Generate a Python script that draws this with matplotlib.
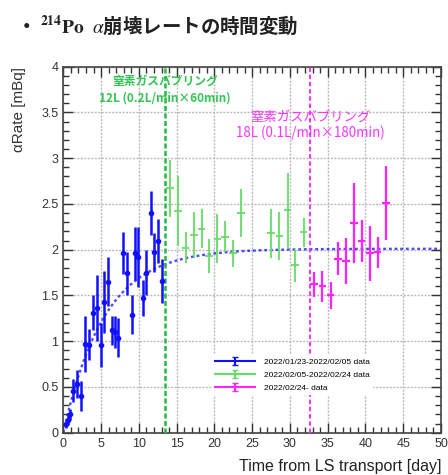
import numpy as np
import matplotlib
matplotlib.use("Agg")
import matplotlib.pyplot as plt
from matplotlib.ticker import MultipleLocator

plt.rcParams["font.family"] = ["Liberation Sans", "DejaVu Sans"]
plt.rcParams["mathtext.fontset"] = "stix"

# 2022/01/23 - 2022/02/05
t1 = [0.32, 0.58, 0.89, 1.33, 1.8, 2.35, 2.87, 3.4, 3.9, 4.4, 4.95, 5.43, 5.96,
      6.4, 6.85, 7.3, 7.95, 8.4, 9.05, 9.55, 9.95, 10.5, 11.0, 11.55, 12.0,
      12.55, 13.05]
r1 = [0.09, 0.14, 0.20, 0.46, 0.53, 0.40, 0.97, 0.96, 1.31, 1.36, 0.96, 1.43, 1.65,
      1.12, 1.10, 1.04, 1.96, 1.74, 1.29, 1.96, 1.92, 1.47, 1.75, 2.40, 1.97,
      2.09, 1.66]
e1 = [0.04, 0.05, 0.06, 0.13, 0.15, 0.16, 0.31, 0.17, 0.19, 0.36, 0.24, 0.34, 0.27,
      0.16, 0.17, 0.21, 0.23, 0.23, 0.21, 0.29, 0.33, 0.20, 0.25, 0.24, 0.21,
      0.24, 0.24]

# 2022/02/05 - 2022/02/24
t2 = [14.13, 15.15, 16.2, 17.3, 18.3, 19.3, 20.4, 21.4, 22.5, 23.5,
      27.5, 28.6, 29.7, 30.7, 31.8]
r2 = [2.67, 2.42, 2.02, 2.16, 2.23, 1.93, 2.12, 2.14, 1.96, 2.40,
      2.18, 2.15, 2.43, 1.83, 2.19]
e2 = [0.31, 0.38, 0.17, 0.25, 0.21, 0.19, 0.27, 0.17, 0.15, 0.26,
      0.27, 0.26, 0.41, 0.18, 0.16]

# 2022/02/24 -
t3 = [33.2, 34.3, 35.4, 36.4, 37.4, 38.5, 39.5, 40.6, 41.6, 42.7]
r3 = [1.62, 1.60, 1.50, 1.90, 1.88, 2.29, 2.09, 1.96, 1.97, 2.51]
e3 = [0.14, 0.17, 0.15, 0.18, 0.25, 0.44, 0.23, 0.30, 0.17, 0.40]

# growth fit A*(1-exp(-t/tau))
fit_A = 2.01
fit_tau = 5.45

bubbling_days = [13.47, 32.7]
bubbling_notes = ["窒素ガスバブリング\n12L (0.2L/min×60min)",
                  "窒素ガスバブリング\n18L (0.1L/min×180min)"]
labels = ["2022/01/23-2022/02/05 data", "2022/02/05-2022/02/24 data",
          "2022/02/24- data"]

blue = "#1010ff"
green = "#66dd66"
magenta = "#ff22ff"
jp = ["Noto Sans CJK JP", "DejaVu Sans"]

fig = plt.figure(figsize=(4.48, 4.75), dpi=100)
ax = fig.add_axes([0.1413, 0.0891, 0.8431, 0.7705])

tt = np.linspace(0, 50, 400)
ax.plot(tt, fit_A * (1 - np.exp(-tt / fit_tau)), color=blue, ls=(0, (1.2, 1.2)),
        lw=1.7, alpha=0.75, zorder=2)

ax.errorbar(t1, r1, yerr=e1, fmt="o", ms=3, color=blue, elinewidth=1.8, zorder=4)
ax.errorbar(t2, r2, xerr=0.5, yerr=e2, fmt="none", ecolor=green, elinewidth=1.3, zorder=4)
ax.errorbar(t3, r3, xerr=0.5, yerr=e3, fmt="none", ecolor=magenta, elinewidth=1.6, zorder=4)

ax.axvline(bubbling_days[0], color="#22bb44", ls=(0, (2, 1)), lw=1.8, zorder=3)
ax.axvline(bubbling_days[1], color=magenta, ls=(0, (2.5, 1.5)), lw=1.3, zorder=3)
ax.text(bubbling_days[0], 3.745, bubbling_notes[0], color="#33c455", ha="center",
        va="center", fontsize=8.5, fontweight="bold", family=jp, linespacing=1.25)
ax.text(bubbling_days[1], 3.36, bubbling_notes[1], color="#ff33ff", ha="center",
        va="center", fontsize=9.6, family=jp, linespacing=1.1)

# legend proxies with capped error bars
handles = []
for c in (blue, green, magenta):
    h = ax.errorbar([np.nan], [np.nan], yerr=[1], fmt="-", color=c, lw=1.5,
                    capsize=2.5, elinewidth=1.5)
    handles.append(h)
leg = ax.legend(handles, labels, loc="upper left", bbox_to_anchor=(0.383, 0.225),
                fontsize=6, handlelength=4.8, handletextpad=1.0, labelspacing=0.65,
                frameon=True, fancybox=False, borderpad=0.4)
leg.get_frame().set_edgecolor("none")
leg.get_frame().set_facecolor("white")
leg.get_frame().set_alpha(1)
leg.set_zorder(5)

ax.set_xlim(0, 50)
ax.set_ylim(0, 4)
ax.xaxis.set_major_locator(MultipleLocator(5))
ax.xaxis.set_minor_locator(MultipleLocator(1))
ax.yaxis.set_major_locator(MultipleLocator(0.5))
ax.yaxis.set_minor_locator(MultipleLocator(0.1))
ax.yaxis.set_major_formatter(plt.FuncFormatter(lambda v, p: f"{v:g}"))
ax.tick_params(which="both", direction="in", top=True, right=True,
               labelsize=9, labelcolor="#333333", color="#333333")
ax.tick_params(which="major", length=7, width=1)
ax.tick_params(which="minor", length=4, width=1)
ax.grid(which="major", color="#bbbbbb", ls=(0, (1.5, 1)), lw=1.0)
for s in ax.spines.values():
    s.set_color("#444444")
    s.set_linewidth(1.2)

ax.set_ylabel("αRate [mBq]", fontsize=11, color="#333333", loc="top")
ax.yaxis.set_label_coords(-0.098, 1.0)
ax.set_xlabel("Time from LS transport [day]", fontsize=11.5, color="#222222", loc="right")
ax.xaxis.set_label_coords(1.0, -0.072)

fig.text(0.035, 0.947, r"・ $^{\mathbf{214}}\mathbf{Po}$  $\alpha$崩壊レートの時間変動",
         fontsize=14, fontweight="bold", family=jp, va="center", ha="left", color="#222222")

fig.savefig("out.png", dpi=100)
